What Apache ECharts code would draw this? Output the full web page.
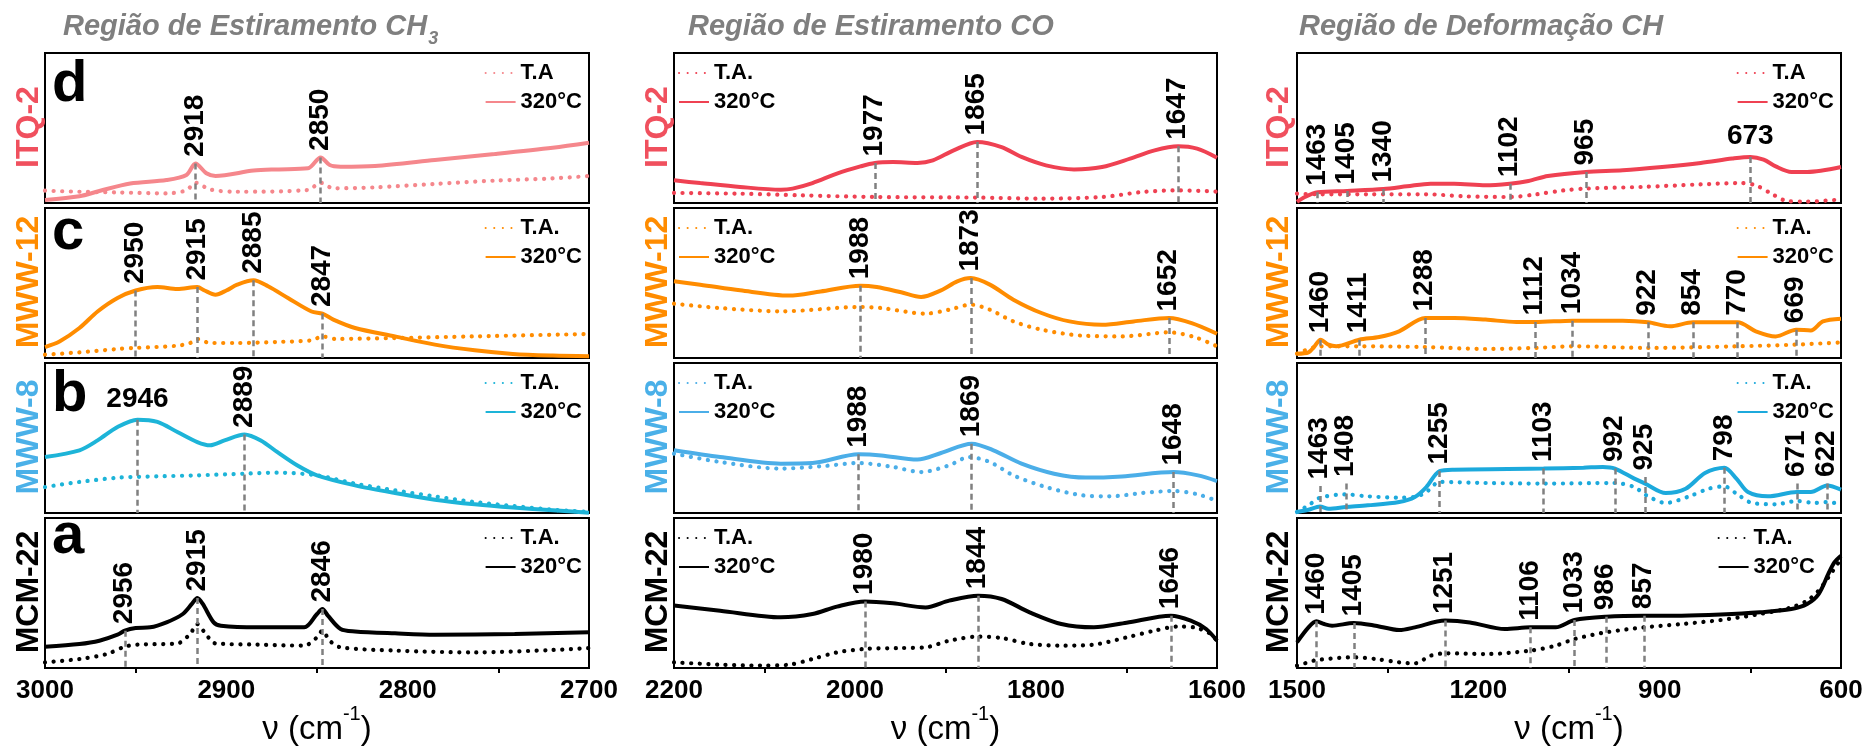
<!DOCTYPE html>
<html>
<head>
<meta charset="utf-8">
<script src="https://cdn.jsdelivr.net/npm/echarts@6/dist/echarts.min.js"></script>
<style>
    html, body { margin: 0; background: #fff; }
    #spectra { width: 1865px; height: 747px; }
</style>
</head>
<body>
<div id="spectra"></div>
<script>
    // faixas do eixo x (cm-1), uma por coluna
    var colMin = [2700, 1600, 600];
    var colMax = [3000, 2200, 1500];
    var colStep = [100, 200, 300];
    var colTitles = ['Região de Estiramento CH', 'Região de Estiramento CO', 'Região de Deformação CH'];
    var rowNames = ['ITQ-2', 'MWW-12', 'MWW-8', 'MCM-22'];
    var rowLetters = ['d', 'c', 'b', 'a'];

    // ---- CH3 (3000-2700) ----
    var itqCH_320 = [[3000,2],[2981,4.5],[2970,8],[2953,13],[2933,15.3],[2922,18.7],[2917,26.4],[2911,19.8],[2906,18],[2885,21.6],[2872,22.4],[2855,23.1],[2848,30.4],[2843,25.3],[2837,24.2],[2818,24.7],[2785,28.7],[2752,32.7],[2720,36.9],[2700,40.2]];
    var itqCH_ta = [[3000,8.2],[2981,7.5],[2959,7],[2933,6.4],[2922,8.5],[2917,13.5],[2909,9],[2894,7.5],[2855,8.7],[2848,13.5],[2841,9.8],[2818,10.4],[2785,12.7],[2752,14.9],[2720,16.4],[2700,18]];
    var mw12CH_320 = [[3000,7.3],[2992,11],[2981,20],[2971,31],[2960,40],[2950,45],[2938,47.3],[2927,46],[2916,47.3],[2912,45],[2906,42.2],[2900,45],[2894,48.9],[2885,51.8],[2877,47.8],[2866,40],[2853,31],[2847,29.6],[2841,25.6],[2829,20],[2807,14.4],[2785,8.9],[2763,5.1],[2742,2.7],[2720,1.6],[2700,1.1]];
    var mw12CH_ta = [[3000,2.2],[2981,3.8],[2960,6],[2950,6.7],[2927,8.2],[2920,10],[2916,12.7],[2909,10],[2894,10],[2872,10.7],[2853,11.8],[2847,14.4],[2840,12.7],[2807,13.3],[2763,14.4],[2700,16]];
    var mw8CH_320 = [[3000,37.3],[2981,41.8],[2971,48.4],[2960,57.3],[2949,62.2],[2938,60.7],[2927,54],[2916,47.3],[2909,45.1],[2901,48.4],[2890,52.4],[2881,48.4],[2872,40.7],[2861,31.8],[2850,25.1],[2829,18.4],[2807,13.3],[2785,8.9],[2763,5.8],[2742,3.6],[2720,1.8],[2700,0.2]];
    var mw8CH_ta = [[3000,17.3],[2981,20.7],[2959,23.6],[2938,24.4],[2916,25.1],[2890,26.2],[2872,26.9],[2850,25.1],[2829,19.6],[2807,15.1],[2785,11.1],[2763,7.3],[2742,4.7],[2720,2.2],[2700,0.7]];
    var mcmCH_320 = [[3000,14.2],[2981,16],[2970,18.2],[2960,22.2],[2956,24.9],[2950,26.7],[2942,27.1],[2933,30.4],[2924,36],[2919,42.7],[2916,46.7],[2913,42.7],[2907,30.4],[2903,28.2],[2883,27.1],[2857,27.1],[2850,36],[2847,39.3],[2844,34.9],[2837,26],[2829,24.4],[2807,23.1],[2785,22.2],[2741,22.7],[2700,23.8]];
    var mcmCH_ta = [[3000,3.8],[2981,6],[2966,9.3],[2956,14.2],[2949,15.6],[2927,16.4],[2920,22.7],[2916,29.3],[2912,23.8],[2906,16.4],[2883,15.6],[2857,14.9],[2850,20.4],[2847,24.9],[2843,18.2],[2837,13.8],[2807,11.6],[2763,10.4],[2720,12],[2700,13.3]];

    // ---- CO (2200-1600) ----
    var itqCO_320 = [[2200,15.1],[2171,13.3],[2127,10.7],[2082,8.9],[2069,9.6],[2047,13.3],[2020,19.6],[1994,24.4],[1978,26.7],[1958,27.3],[1931,26.7],[1914,28.4],[1891,35.1],[1865,40.7],[1838,37.3],[1816,30.7],[1789,25.1],[1758,22.4],[1727,24],[1696,29.6],[1669,35.1],[1643,37.8],[1622,36.2],[1600,30.2]];
    var itqCO_ta = [[2200,6.7],[2127,6.2],[2060,5.1],[1978,4],[1865,3.6],[1796,2.9],[1727,4],[1683,7.3],[1643,8.4],[1600,7.6]];
    var mw12CO_320 = [[2200,51.1],[2171,48.9],[2127,45.1],[2073,41.6],[2038,44.4],[1994,48.2],[1976,47.3],[1949,43.8],[1927,40.7],[1905,45.1],[1887,51.1],[1872,53.3],[1851,48.9],[1825,38.9],[1794,30],[1763,24.4],[1727,22.2],[1692,24.4],[1653,26.7],[1628,23.3],[1600,16.2]];
    var mw12CO_ta = [[2200,36.2],[2149,33.3],[2082,31.1],[1994,34],[1971,33.3],[1922,29.6],[1896,32.2],[1872,35.6],[1851,32.2],[1825,24.4],[1794,18.9],[1749,14.9],[1705,14.4],[1653,17.1],[1625,14],[1600,7.8]];
    var mw8CO_320 = [[2200,41.8],[2149,37.3],[2082,32.9],[2047,33.3],[1996,39.1],[1971,38.4],[1931,35.6],[1905,40],[1871,46.2],[1847,41.8],[1816,32.9],[1780,26.2],[1745,23.6],[1705,24.4],[1648,27.3],[1621,25.1],[1600,21.3]];
    var mw8CO_ta = [[2200,39.6],[2149,34],[2082,29.6],[2038,31.1],[1996,33.3],[1958,30.7],[1927,27.3],[1896,31.8],[1874,37.3],[1851,34],[1825,25.1],[1789,17.3],[1749,11.8],[1718,11.1],[1683,13.3],[1648,14.7],[1621,12.4],[1600,8]];
    var mcmCO_320 = [[2200,41.6],[2149,38.2],[2082,33.8],[2047,36],[2020,40.9],[1989,44.4],[1958,43.1],[1922,40.4],[1896,44.9],[1864,48.2],[1838,46],[1807,37.1],[1772,29.3],[1736,27.1],[1700,30.2],[1651,34.9],[1629,31.6],[1612,26],[1600,18.2]];
    var mcmCO_ta = [[2200,3.8],[2149,2.2],[2105,1.6],[2073,2.2],[2047,6],[2020,10.4],[1989,12.7],[1949,13.3],[1922,13.8],[1896,18.2],[1864,20.9],[1838,20],[1807,16],[1772,14.9],[1736,15.6],[1700,20.4],[1669,24.9],[1643,27.6],[1625,27.1],[1607,22.7],[1600,18.2]];

    // ---- deformacao CH (1500-600) ----
    var itqDF_320 = [[1500,0.7],[1487,4],[1466,7.1],[1417,8],[1357,9.3],[1318,11.1],[1279,12.9],[1240,12.9],[1188,11.8],[1148,12.9],[1117,14.7],[1085,18],[1022,20.7],[961,21.8],[896,24],[832,26.7],[780,29.6],[750,30.7],[728,28.9],[708,24.4],[682,20.7],[656,20.7],[600,24]];
    var itqDF_ta = [[1500,6.2],[1466,5.8],[1383,5.8],[1286,5.8],[1221,4.4],[1148,4],[1104,5.8],[1059,8.4],[1022,9.6],[929,10.7],[832,12.4],[767,13.3],[741,11.8],[715,6.2],[689,1.3],[656,0.9],[600,2.4]];
    var mw12DF_320 = [[1500,2.9],[1481,3.8],[1471,7.8],[1461,12.2],[1448,8.9],[1435,7.8],[1397,12.2],[1364,14],[1331,17.8],[1288,26.7],[1240,26.7],[1188,25.6],[1137,24],[1106,24],[1044,24.9],[961,24.9],[919,23.8],[883,21.1],[845,23.8],[771,23.8],[741,17.8],[708,14.4],[674,18.9],[650,18.4],[630,24.4],[600,26.2]];
    var mw12DF_ta = [[1500,2.9],[1461,7.8],[1397,7.8],[1288,7.3],[1188,6],[1106,6.7],[1044,7.8],[919,6.7],[771,7.8],[674,8.9],[600,10.4]];
    var mw8DF_320 = [[1500,0.7],[1481,2.2],[1462,4.4],[1448,2.9],[1419,4],[1383,5.1],[1331,7.3],[1305,10.7],[1286,17.3],[1264,28],[1240,28.9],[1092,29.6],[1026,30.2],[994,30.7],[974,29.6],[942,22.9],[924,19.6],[890,13.3],[857,16.2],[825,26.7],[793,30.2],[773,22.9],[754,14],[721,11.1],[673,14],[650,14],[623,18.4],[600,15.6]];
    var mw8DF_ta = [[1500,0.7],[1481,5.1],[1462,10.2],[1419,12.4],[1383,11.1],[1331,10.2],[1305,10.7],[1286,14],[1264,20.7],[1188,20],[1092,19.6],[974,20],[942,17.3],[922,11.8],[890,6.7],[851,11.1],[819,16.2],[793,17.8],[773,12.9],[747,6.7],[708,5.8],[673,8],[643,6.7],[623,7.3],[600,5.8]];
    var mcmDF_320 = [[1500,17.1],[1481,27.1],[1468,31.1],[1455,29.3],[1442,28.2],[1406,30],[1370,28.2],[1331,25.3],[1305,27.1],[1255,31.6],[1214,30.4],[1156,26],[1114,27.1],[1072,27.1],[1041,32],[989,34.2],[926,34.9],[864,34.9],[799,35.6],[734,37.1],[682,39.3],[656,42.7],[637,49.3],[621,62.7],[611,70.4],[600,74.9]];
    var mcmDF_ta = [[1500,1.6],[1481,3.8],[1468,5.3],[1406,7.1],[1370,6],[1331,3.8],[1305,3.1],[1279,8.2],[1255,9.8],[1188,9.3],[1114,11.6],[1072,14.9],[1041,19.3],[989,23.8],[926,27.1],[864,29.3],[799,32],[734,36],[682,40.4],[656,44.9],[637,51.6],[621,60.4],[600,72.7]];

    // marcadores: [posicao, topo da linha, texto, horizontal]
    var itqCH_marks = [[2917,26.4,'2918'],[2848,30.4,'2850']];
    var mw12CH_marks = [[2950,45,'2950'],[2916,47.3,'2915'],[2885,51.8,'2885'],[2847,29.6,'2847']];
    var mw8CH_marks = [[2949,62.2,'2946',1],[2890,52.4,'2889']];
    var mcmCH_marks = [[2956,24.9,'2956'],[2916,46.7,'2915'],[2847,39.3,'2846']];
    var itqCO_marks = [[1978,26.7,'1977'],[1865,40.7,'1865'],[1643,37.8,'1647']];
    var mw12CO_marks = [[1994,48.2,'1988'],[1872,53.3,'1873'],[1653,26.7,'1652']];
    var mw8CO_marks = [[1996,39.1,'1988'],[1871,46.2,'1869'],[1648,27.3,'1648']];
    var mcmCO_marks = [[1989,44.4,'1980'],[1864,48.2,'1844'],[1651,34.9,'1646']];
    var itqDF_marks = [[1466,7.1,'1463'],[1417,8,'1405'],[1357,9.3,'1340'],[1148,12.9,'1102'],[1022,20.7,'965'],[750,30.7,'673',1]];
    var mw12DF_marks = [[1461,12.2,'1460'],[1397,12.2,'1411'],[1288,26.7,'1288'],[1106,24,'1112'],[1044,24.9,'1034'],[919,23.8,'922'],[845,23.8,'854'],[771,23.8,'770'],[674,18.9,'669']];
    var mw8DF_marks = [[1462,18,'1463'],[1419,19.6,'1408'],[1264,28,'1255'],[1092,29.6,'1103'],[974,29.6,'992'],[924,24,'925'],[793,30.2,'798'],[673,19.6,'671'],[623,19.6,'622']];
    var mcmDF_marks = [[1468,31.1,'1460'],[1406,30,'1405'],[1255,31.6,'1251'],[1114,27.1,'1106'],[1041,32,'1033'],[989,34.2,'986'],[926,34.9,'857']];

    var taLabels = [['T.A', 'T.A.', 'T.A'], ['T.A.', 'T.A.', 'T.A.'], ['T.A.', 'T.A.', 'T.A.'], ['T.A.', 'T.A.', 'T.A.']];

    var hot = [[itqCH_320, itqCO_320, itqDF_320], [mw12CH_320, mw12CO_320, mw12DF_320], [mw8CH_320, mw8CO_320, mw8DF_320], [mcmCH_320, mcmCO_320, mcmDF_320]];
    var cold = [[itqCH_ta, itqCO_ta, itqDF_ta], [mw12CH_ta, mw12CO_ta, mw12DF_ta], [mw8CH_ta, mw8CO_ta, mw8DF_ta], [mcmCH_ta, mcmCO_ta, mcmDF_ta]];
    var marks = [[itqCH_marks, itqCO_marks, itqDF_marks], [mw12CH_marks, mw12CO_marks, mw12DF_marks], [mw8CH_marks, mw8CO_marks, mw8DF_marks], [mcmCH_marks, mcmCO_marks, mcmDF_marks]];

    // layout
    var FONT = '"Liberation Sans", Arial, sans-serif';
    var colLeft = [45, 674, 1297];
    var colWidth = [544, 543, 544];
    var rowTop = [53, 208, 363, 518];
    var rowH = 150;
    var lineColors = [
        ['#f5878c', '#ef4152', '#ef4152'],
        ['#ff8c00', '#ff8c00', '#ff8c00'],
        ['#1db4d8', '#4baee8', '#1ca9dc'],
        ['#000000', '#000000', '#000000']
    ];
    var rowColors = ['#f0505e', '#ff8c00', '#4ab0e8', '#000000'];

    var grids = [], xAxes = [], yAxes = [], series = [], legends = [], graphics = [];
    var names = {};

    for (var r = 0; r < 4; r++) {
        for (var c = 0; c < 3; c++) {
            var i = r * 3 + c;
            var bottomRow = r === 3;
            var color = lineColors[r][c];
            grids.push({
                left: colLeft[c], top: rowTop[r], width: colWidth[c], height: rowH,
                show: true, borderColor: '#000', borderWidth: 2, backgroundColor: 'transparent',
                containLabel: false, outerBoundsMode: 'none'
            });
            xAxes.push({
                gridIndex: i, type: 'value', inverse: true,
                min: colMin[c], max: colMax[c], interval: colStep[c],
                axisLine: {show: false},
                splitLine: {show: false},
                axisTick: {show: false},
                minorTick: {show: bottomRow, splitNumber: 2, length: 5, lineStyle: {color: '#000', width: 2}},
                axisLabel: {
                    show: bottomRow, margin: 10, fontSize: 26, fontWeight: 'bold', color: '#000', fontFamily: FONT,
                    formatter: function (v) { return String(v); }
                },
                name: bottomRow ? '{a|ν (cm}{s|-1}{a|)}' : '',
                nameLocation: 'middle', nameGap: 32,
                nameTextStyle: {
                    rich: {
                        a: {fontSize: 33, lineHeight: 50, color: '#000', fontFamily: FONT},
                        s: {fontSize: 20, lineHeight: 20, verticalAlign: 'top', color: '#000', fontFamily: FONT}
                    }
                }
            });
            yAxes.push({gridIndex: i, type: 'value', min: 0, max: 100, show: false});

            var hotName = 'hot' + i, taName = 'ta' + i;
            names[hotName] = '320°C';
            names[taName] = taLabels[r][c];

            var ml = [], mp = [];
            marks[r][c].forEach(function (m) {
                ml.push([{coord: [m[0], m[1]]}, {coord: [m[0], 0]}]);
                mp.push({
                    coord: [m[0], m[1]], name: m[2],
                    label: m[3]
                        ? {rotate: 0, position: 'top', distance: 6, align: 'center', verticalAlign: 'bottom'}
                        : {rotate: 90, position: [0, -6], align: 'left', verticalAlign: 'middle'}
                });
            });

            series.push({
                name: hotName, type: 'line', xAxisIndex: i, yAxisIndex: i,
                data: hot[r][c], symbol: 'none', smooth: 0.3, z: 3,
                lineStyle: {color: color, width: 4},
                itemStyle: {color: color},
                markLine: {
                    silent: true, symbol: ['none', 'none'], animation: false,
                    label: {show: false},
                    lineStyle: {color: '#808080', width: 2.5, type: [6, 4]},
                    emphasis: {disabled: true},
                    data: ml
                },
                markPoint: {
                    silent: true, symbol: 'rect', symbolSize: 1, animation: false,
                    itemStyle: {color: 'rgba(0,0,0,0)'},
                    label: {show: true, formatter: '{b}', fontSize: 28, fontWeight: 'bold', color: '#000', fontFamily: FONT},
                    data: mp
                }
            });
            series.push({
                name: taName, type: 'line', xAxisIndex: i, yAxisIndex: i,
                data: cold[r][c], symbol: 'none', smooth: 0.3, z: 4,
                lineStyle: {color: color, width: 4.2, type: [0.1, 8.5], cap: 'round'},
                itemStyle: {color: color}
            });

            var lg = {
                orient: 'vertical', data: [taName, hotName], top: rowTop[r] + 9,
                itemWidth: 30, itemHeight: 14, itemGap: 7, align: 'left', padding: 0,
                selectedMode: false,
                formatter: function (n) { return names[n]; },
                textStyle: {fontSize: 22, fontWeight: 'bold', color: '#000', fontFamily: FONT},
                itemStyle: {opacity: 0}
            };
            if (c === 1) {
                lg.left = colLeft[c] + 4;
            } else {
                lg.right = 1865 - (colLeft[c] + colWidth[c]) + (r === 3 && c === 2 ? 26 : 7);
            }
            legends.push(lg);
        }
    }

    // titulos das colunas
    var titleX = [63, 688, 1299];
    var titleFont = 'italic bold 29px ' + FONT;
    for (var c2 = 0; c2 < 3; c2++) {
        graphics.push({
            type: 'text', x: titleX[c2], y: 27,
            style: {text: colTitles[c2], font: titleFont, fill: '#7f7f7f', align: 'left', verticalAlign: 'middle'}
        });
    }
    // subscrito "3" de CH3, posto logo depois do texto medido
    var ctx = document.createElement('canvas').getContext('2d');
    ctx.font = titleFont;
    var titleW = ctx.measureText(colTitles[0]).width;
    graphics.push({
        type: 'text', x: titleX[0] + titleW + 1, y: 39,
        style: {text: '3', font: 'italic bold 18px ' + FONT, fill: '#7f7f7f', align: 'left', verticalAlign: 'middle'}
    });

    // nomes das amostras (rotacionados) e letras
    var rowLabelX = [29, 658, 1279];
    var letterY = [85, 233, 395, 537];
    for (var r2 = 0; r2 < 4; r2++) {
        for (var c3 = 0; c3 < 3; c3++) {
            graphics.push({
                type: 'text', x: rowLabelX[c3], y: rowTop[r2] + rowH / 2 - 1, rotation: Math.PI / 2,
                style: {text: rowNames[r2], fill: rowColors[r2], fontSize: 32, fontWeight: 'bold', fontFamily: FONT, align: 'center', verticalAlign: 'middle'}
            });
        }
        graphics.push({
            type: 'text', x: 52, y: letterY[r2],
            style: {text: rowLetters[r2], fill: '#000', fontSize: 58, fontWeight: 'bold', fontFamily: FONT, align: 'left', verticalAlign: 'middle'}
        });
    }

    var chart = echarts.init(document.getElementById('spectra'));
    chart.setOption({
        animation: false,
        backgroundColor: '#fff',
        grid: grids,
        xAxis: xAxes,
        yAxis: yAxes,
        legend: legends,
        series: series,
        graphic: graphics
    });
</script>
</body>
</html>
